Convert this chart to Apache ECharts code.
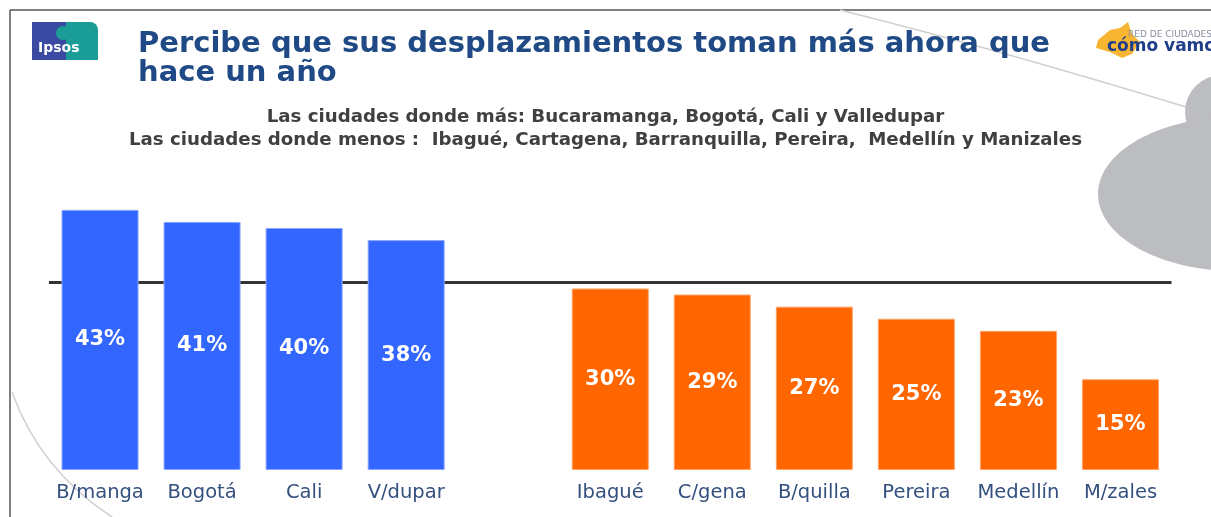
<!DOCTYPE html>
<html>
<head>
<meta charset="utf-8">
<title>Percibe que sus desplazamientos toman más ahora</title>
<script src="https://cdn.jsdelivr.net/npm/echarts@6/dist/echarts.min.js"></script>
<style>
  html, body { margin: 0; padding: 0; background: #fff; }
  #chart { width: 1211px; height: 517px; }
</style>
</head>
<body>
<div id="chart"></div>
<script>
  // ciudades (la vacía separa los dos grupos)
  var ciudades = ['B/manga', 'Bogotá', 'Cali', 'V/dupar', '', 'Ibagué', 'C/gena', 'B/quilla', 'Pereira', 'Medellín', 'M/zales']
  // donde más
  var valoresMas = [43, 41, 40, 38, '-', '-', '-', '-', '-', '-', '-']
  // donde menos
  var valoresMenos = ['-', '-', '-', '-', '-', 30, 29, 27, 25, 23, 15]
  // línea de referencia
  var lineaRef = 31

  var titulo = 'Percibe que sus desplazamientos toman más ahora que\nhace un año'
  var subtitulo = 'Las ciudades donde más: Bucaramanga, Bogotá, Cali y Valledupar\n' +
    'Las ciudades donde menos :  Ibagué, Cartagena, Barranquilla, Pereira,  Medellín y Manizales'

  var chart = echarts.init(document.getElementById('chart'))

  var etiqueta = {
    show: true,
    position: 'inside',
    formatter: '{c}%',
    color: '#fff',
    fontFamily: 'DejaVu Sans',
    fontWeight: 'bold',
    fontSize: 21
  }

  chart.setOption({
    animation: false,
    title: [
      {
        text: titulo,
        left: 133,
        top: 25,
        textStyle: {
          color: '#1f4a85',
          fontFamily: 'DejaVu Sans',
          fontWeight: 'bold',
          fontSize: 29,
          lineHeight: 29
        }
      },
      {
        text: subtitulo,
        left: 'center',
        top: 101,
        textStyle: {
          color: '#404040',
          fontFamily: 'DejaVu Sans',
          fontWeight: 'bold',
          fontSize: 18.2,
          lineHeight: 23
        }
      }
    ],
    grid: {
      left: 49,
      right: 39.5,
      top: 167.5,
      bottom: 47
    },
    xAxis: [
      {
        type: 'category',
        data: ciudades,
        axisLine: { show: false },
        axisTick: { show: false },
        axisLabel: {
          color: '#34507f',
          fontFamily: 'DejaVu Sans',
          fontSize: 19.5,
          margin: 13,
          interval: 0
        }
      },
      {
        // eje auxiliar para que la línea cruce todo el ancho
        type: 'value',
        min: 0,
        max: 1,
        show: false
      }
    ],
    yAxis: {
      type: 'value',
      min: 0,
      max: 50,
      show: false
    },
    series: [
      {
        name: 'ref',
        type: 'line',
        xAxisIndex: 1,
        z: 1,
        symbol: 'none',
        silent: true,
        lineStyle: { color: '#333', width: 3 },
        data: [[0, lineaRef], [1, lineaRef]]
      },
      {
        name: 'Más',
        type: 'bar',
        zlevel: 1,
        z: 10,
        barWidth: 77,
        barGap: '-100%',
        data: valoresMas,
        itemStyle: { color: '#3366ff', borderColor: '#8aa6ff', borderWidth: 1 },
        label: etiqueta
      },
      {
        name: 'Menos',
        type: 'bar',
        zlevel: 1,
        z: 10,
        barWidth: 77,
        data: valoresMenos,
        itemStyle: { color: '#ff6600', borderColor: '#ffa366', borderWidth: 1 },
        label: etiqueta
      }
    ],
    graphic: [
      // marco
      { type: 'line', z: -1, shape: { x1: 10, y1: 10, x2: 1211, y2: 10 }, style: { stroke: '#555', lineWidth: 1.5 } },
      { type: 'line', z: -1, shape: { x1: 10, y1: 10, x2: 10, y2: 517 }, style: { stroke: '#555', lineWidth: 1.5 } },
      // curvas finas
      { type: 'bezierCurve', z: -1, shape: { x1: 840, y1: 10, cpx1: 1000, cpy1: 50, x2: 1186, y2: 107 }, style: { stroke: '#cfcfcf', lineWidth: 1.5, fill: null } },
      { type: 'bezierCurve', z: -1, shape: { x1: 12, y1: 392, cpx1: 40, cpy1: 470, x2: 112, y2: 517 }, style: { stroke: '#cfcfcf', lineWidth: 1.5, fill: null } },
      // nube gris
      { type: 'circle', z: -1, shape: { cx: 1222, cy: 112, r: 37 }, style: { fill: '#bcbdc0' } },
      { type: 'ellipse', z: -1, shape: { cx: 1236, cy: 194, rx: 138, ry: 77 }, style: { fill: '#bcbdc0' } },
      // logo Ipsos
      { type: 'rect', z: 5, shape: { x: 32, y: 22, width: 34, height: 38 }, style: { fill: '#3a4aa3' } },
      { type: 'rect', z: 5, shape: { x: 66, y: 22, width: 32, height: 38, r: [0, 8, 0, 0] }, style: { fill: '#1a9d96' } },
      { type: 'circle', z: 6, shape: { cx: 63, cy: 33, r: 7 }, style: { fill: '#1a9d96' } },
      { type: 'text', z: 6, left: 38, top: 41, style: { text: 'Ipsos', fill: '#fff', font: 'bold 14px "DejaVu Sans"' } },
      // logo Cómo Vamos
      { type: 'polygon', z: 5, shape: { points: [[1098, 40], [1110, 30], [1120, 28], [1128, 22], [1132, 34], [1140, 42], [1132, 54], [1122, 58], [1110, 52], [1096, 48]] }, style: { fill: '#f7b531' } },
      { type: 'text', z: 6, left: 1128, top: 30, style: { text: 'RED DE CIUDADES', fill: '#8a8fa0', font: '9px "DejaVu Sans"' } },
      { type: 'text', z: 6, left: 1107, top: 38, style: { text: 'cómo vamos', fill: '#1f3f8a', font: 'bold 17px "DejaVu Sans"' } }
    ]
  })
</script>
</body>
</html>
